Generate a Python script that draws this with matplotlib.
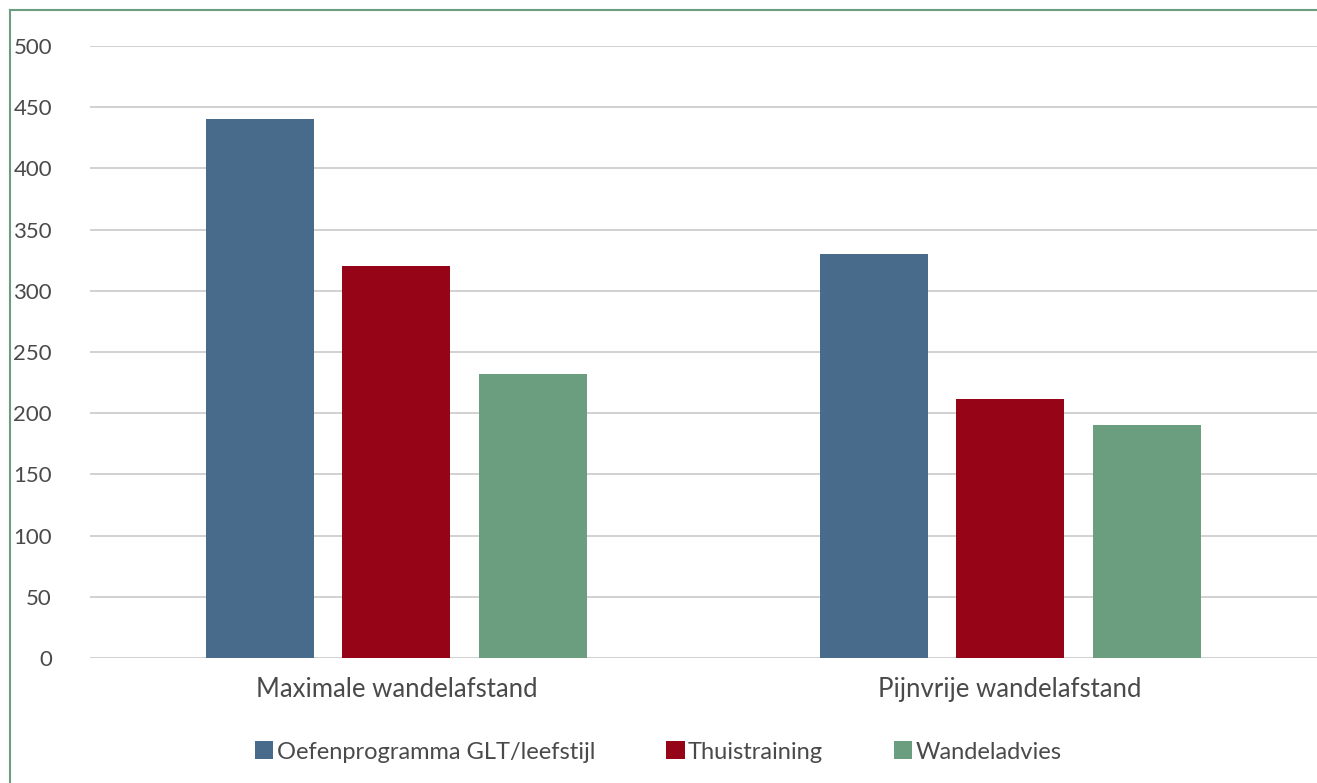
import numpy as np
import matplotlib.pyplot as plt

categories = ['Maximale wandelafstand', 'Pijnvrije wandelafstand']
series_names = ['Oefenprogramma GLT/leefstijl', 'Thuistraining', 'Wandeladvies']
oefenprogramma = [440, 330]
thuistraining = [320, 212]
wandeladvies = [232, 190]
colors = ['#486a8b', '#960417', '#6a9e7f']

plt.rcParams['font.family'] = ['Lato', 'DejaVu Sans']

fig = plt.figure(figsize=(13.17, 7.83), dpi=100)
ax = fig.add_axes([89.5 / 1317, 1 - 658 / 783, (1317 - 89.5) / 1317, 612 / 783])

x = np.arange(len(categories))
width = 0.176
step = 0.2225
for i, (vals, name, c) in enumerate(zip([oefenprogramma, thuistraining, wandeladvies], series_names, colors)):
    ax.bar(x + (i - 1) * step, vals, width, color=c, label=name, zorder=3)

ax.set_xlim(-0.5, 1.5)
ax.set_ylim(0, 500)
ax.set_yticks(range(0, 501, 50))
ax.yaxis.grid(True, color='#c9c9c9', linewidth=1.2, zorder=0)
ax.set_axisbelow(True)
for s in ax.spines.values():
    s.set_visible(False)
ax.tick_params(axis='y', length=0, pad=27, labelsize=16, labelcolor='#4a4a4a')
ax.tick_params(axis='x', length=0, pad=14, labelsize=18.5, labelcolor='#4a4a4a')
ax.set_xticks(x)
ax.set_xticklabels(categories)

leg = fig.legend(loc='center', bbox_to_anchor=(0.5, 1 - 752 / 783), ncol=3, frameon=False,
                 fontsize=17, handlelength=0.78, handleheight=0.78, handletextpad=0.15,
                 columnspacing=3.0, labelcolor='#4a4a4a')

# thin green frame on the top and left edges
fig.add_artist(plt.Line2D([10 / 1317, 10 / 1317], [0, 1 - 10 / 783], color='#6a9e7f', lw=1.5,
                          transform=fig.transFigure))
fig.add_artist(plt.Line2D([10 / 1317, 1], [1 - 10 / 783, 1 - 10 / 783], color='#6a9e7f', lw=1.5,
                          transform=fig.transFigure))

fig.savefig('out.png', dpi=100)
